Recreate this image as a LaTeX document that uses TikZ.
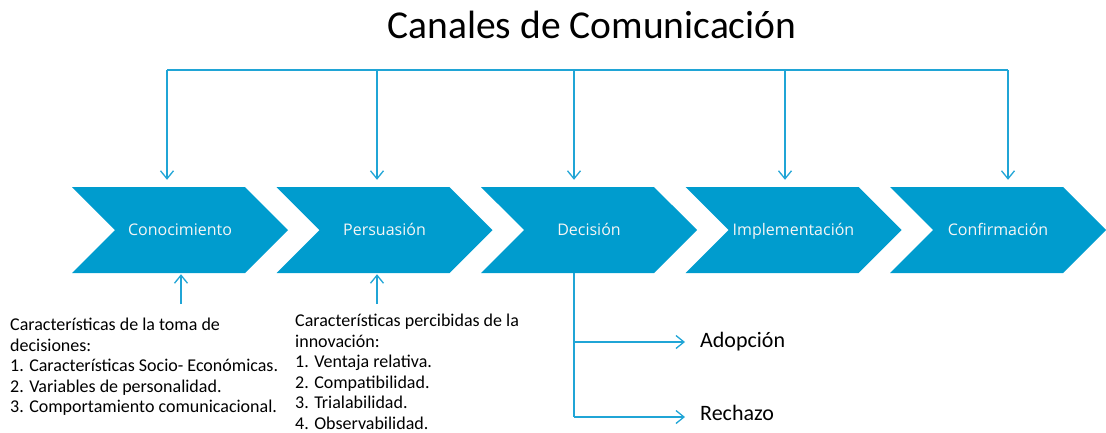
\documentclass[tikz,border=0pt]{standalone}
\usepackage{fontspec}
\setmainfont{Carlito}
\newfontfamily\stagefont{Open Sans}
\usetikzlibrary{arrows.meta,shapes.symbols,positioning}
\definecolor{stageblue}{RGB}{0,156,206}
\definecolor{linkblue}{RGB}{32,165,214}

\begin{document}
\begin{tikzpicture}[x=1pt,y=-1pt,>={Straight Barb[length=8pt,width=13pt]},
  node distance=204.5pt,
  stage/.style={signal,signal from=west,signal to=east,signal pointer angle=90,
    fill=stageblue,minimum width=216pt,minimum height=86pt,inner sep=0pt,
    text height=2.4ex,text depth=.3ex,
    text=white!92!gray,font=\stagefont\fontsize{16}{18}\selectfont},
  link/.style={draw=linkblue,line width=1.3pt},
  list/.style={align=left,inner sep=0pt,font=\fontsize{18}{20.5}\selectfont},
  result/.style={inner sep=0pt,font=\fontsize{22}{26}\selectfont}]

 \useasboundingbox (0,0) rectangle (1106,432);

 \node[font=\fontsize{39.5}{42}\selectfont,anchor=base] (title) at (592,38) {Canales de Comunicación};

 \node[stage] (k1) at (180,230) {Conocimiento};
 \node[stage] (k2) [right of=k1] {Persuasión};
 \node[stage] (k3) [right of=k2] {Decisión};
 \node[stage] (k4) [right of=k3] {Implementación};
 \node[stage] (k5) [right of=k4] {Confirmación};

 \node[list,anchor=north west] (dec) at (10,318) {Características de la toma de\\decisiones:\\1. Características Socio- Económicas.\\2. Variables de personalidad.\\3. Comportamiento comunicacional.};
 \node[list,anchor=north west] (inn) at (295,314) {Características percibidas de la\\innovación:\\1. Ventaja relativa.\\2. Compatibilidad.\\3. Trialabilidad.\\4. Observabilidad.};

 \node[result,anchor=west] (adop) at (700,342) {Adopción};
 \node[result,anchor=west] (rech) at (700,413) {Rechazo};

 % canales
 \coordinate (b1) at (167,70);
 \coordinate (b2) at (377,70);
 \coordinate (b3) at (574,70);
 \coordinate (b4) at (785,70);
 \coordinate (b5) at (1008,70);
 \draw[link] (b1) -- (b5);
 \foreach \i in {1,...,5}
   \draw[link,->,shorten >=7pt] (b\i) -- (b\i |- k\i.north);

 \coordinate (u1) at (181,304);
 \coordinate (u2) at (377,304);
 \draw[link,->,shorten >=1pt] (u1) -- (u1 |- k1.south);
 \draw[link,->,shorten >=1pt] (u2) -- (u2 |- k2.south);

 \coordinate (d1) at (574,342);
 \coordinate (d2) at (574,417);
 \draw[link] (d2 |- k3.south) -- (d2);
 \draw[link,->,shorten >=15pt] (d1) -- (d1 -| adop.west);
 \draw[link,->,shorten >=15pt] (d2) -- (d2 -| rech.west);

\end{tikzpicture}
\end{document}
